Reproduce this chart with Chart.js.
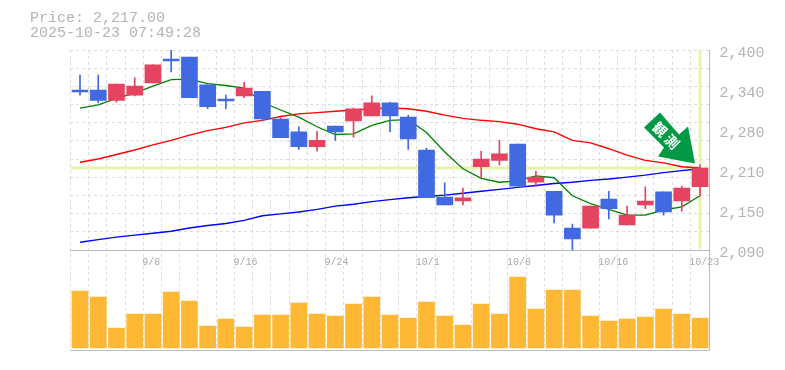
<!DOCTYPE html>
<html>
<head>
<meta charset="utf-8">
<style>
  body { margin: 0; background: #fff; }
  #wrap { position: relative; width: 785px; height: 370px; overflow: hidden; }
  #info { position: absolute; left: 30px; top: 11px; font: 15px/15px "Liberation Mono", monospace; color: #b4b4b4; white-space: pre; }
  canvas { position: absolute; left: 0; top: 0; }
</style>
<script src="https://cdn.jsdelivr.net/npm/chart.js@4/dist/chart.umd.js"></script>
</head>
<body>
<div id="wrap">
  <canvas id="c" width="785" height="370"></canvas>
  <div id="info">Price: 2,217.00
2025-10-23 07:49:28</div>
</div>
<script>
const lastPrice = 2217;

const opens  = [2338,2338,2322,2330,2349,2386,2389,2346,2324,2329,2336,2293,2273,2250,2282,2290,2298,2318,2296,2245,2172,2166,2219,2229,2254,2195,2181,2124,2124,2169,2129,2160,2180,2166,2188];
const closes = [2335,2322,2347,2344,2377,2383,2326,2312,2321,2341,2293,2264,2250,2260,2273,2309,2318,2298,2262,2171,2160,2171,2231,2239,2189,2203,2144,2107,2158,2154,2144,2166,2149,2186,2217];
const highs  = [2361,2361,2347,2357,2377,2400,2389,2346,2330,2350,2336,2295,2281,2274,2282,2310,2329,2319,2299,2248,2194,2186,2243,2260,2254,2212,2181,2130,2158,2181,2158,2188,2180,2189,2222];
const lows   = [2330,2318,2319,2329,2349,2366,2326,2309,2309,2326,2290,2264,2246,2243,2260,2265,2298,2273,2246,2171,2160,2160,2202,2222,2189,2188,2132,2090,2124,2138,2129,2154,2144,2150,2174];

const maShort = [2310,2315,2325,2333,2344,2354,2355,2348,2345,2341,2319,2307,2296,2281,2269,2270,2283,2291,2292,2272,2242,2216,2201,2195,2197,2205,2202,2174,2162,2153,2144,2144,2152,2157,2174];
const maMid   = [2226,2231,2238,2245,2253,2260,2268,2275,2280,2287,2291,2297,2301,2303,2305,2307,2309,2310,2309,2305,2299,2294,2291,2289,2285,2278,2273,2260,2256,2247,2237,2229,2225,2219,2217];
const maLong  = [2102,2106,2110,2113,2116,2119,2124,2128,2131,2136,2143,2146,2149,2153,2158,2161,2165,2168,2171,2173,2175,2178,2181,2184,2187,2190,2193,2195,2198,2200,2203,2206,2210,2213,2216];

const volumes = [57,51,20,34,34,56,47,22,29,21,33,33,45,34,32,44,51,33,30,46,32,23,44,34,71,39,58,58,32,27,29,31,39,34,30];

const dateIdx = [4,9,14,19,24,29,34];
const dateLabels = ['9/8','9/16','9/24','10/1','10/8','10/16','10/23'];
const priceTicks = [2400,2338,2276,2214,2152,2090];
const priceLabels = ['2,400','2,340','2,280','2,210','2,150','2,090'];

const UP = '#e54360', DOWN = '#4169e1', VOL = '#ffb833', GRID = '#ddd', AXIS = '#bbb', TEXT = '#aaa', MARK = '#e6f5a8';

const idx = opens.map((_, i) => i);
const candleColors = idx.map(i => closes[i] >= opens[i] ? UP : DOWN);
const xMin = -0.532, xMax = 34.52;
const gridLines = 11;

const line = (data, color, width) => ({
  type: 'line', data: data.map((y, i) => ({ x: i, y })), yAxisID: 'y',
  borderColor: color, borderWidth: width, pointRadius: 0, tension: 0, order: 5
});

// green arrow marker pointing at the last candle
const arrowPlugin = {
  id: 'arrow',
  afterDatasetsDraw(chart) {
    const tipX = chart.scales.x.getPixelForValue(34) - 5;
    const tipY = chart.scales.y.getPixelForValue(lastPrice) - 4.5;
    const ctx = chart.ctx;
    const shape = [[0,0],[-37,-7],[-31,-16],[-51,-36],[-35,-51],[-16,-29],[-7,-37]];
    ctx.save();
    ctx.translate(tipX, tipY);
    ctx.fillStyle = '#009944';
    ctx.beginPath();
    shape.forEach(p => ctx.lineTo(p[0], p[1]));
    ctx.closePath();
    ctx.fill();
    ctx.translate(-29, -28);
    ctx.rotate(Math.PI / 4);
    ctx.fillStyle = '#fff';
    ctx.font = 'bold 14px "Noto Sans CJK JP"';
    ctx.letterSpacing = '3px';
    ctx.textAlign = 'center';
    ctx.textBaseline = 'middle';
    ctx.fillText('観測', 1.5, 0);
    ctx.restore();
  }
};

new Chart(document.getElementById('c'), {
  data: {
    datasets: [
      { type: 'bar', data: idx.map(i => ({ x: i, y: [opens[i], closes[i]] })), yAxisID: 'y',
        backgroundColor: candleColors, barThickness: 16, grouped: false, order: 1 },
      { type: 'bar', data: idx.map(i => ({ x: i, y: [lows[i], highs[i]] })), yAxisID: 'y',
        backgroundColor: candleColors, barThickness: 1, grouped: false, order: 2 },
      { type: 'bar', data: idx.map(i => ({ x: i, y: volumes[i] })), yAxisID: 'yVol',
        backgroundColor: VOL, barThickness: 16, grouped: false, order: 3 },
      line(maShort, '#008000', 1.3),
      line(maMid, '#ff0000', 1.4),
      line(maLong, '#0000ff', 1.4),
      { type: 'line', data: [{ x: xMin, y: lastPrice }, { x: xMax, y: lastPrice }], yAxisID: 'y',
        borderColor: MARK, borderWidth: 3, pointRadius: 0, order: 9 },
      { type: 'line', data: [{ x: 34, y: 2400 }, { x: 34, y: 2092 }], yAxisID: 'y',
        borderColor: MARK, borderWidth: 3, pointRadius: 0, order: 9 }
    ]
  },
  plugins: [arrowPlugin],
  options: {
    responsive: false,
    animation: false,
    events: [],
    layout: { padding: { left: 70.3, right: 0, top: 50, bottom: 20 } },
    plugins: { legend: { display: false }, tooltip: { enabled: false } },
    scales: {
      x: {
        type: 'linear',
        offset: false,
        min: xMin,
        max: xMax,
        position: { y: 2090 },
        afterBuildTicks: s => { s.ticks = idx.map(i => ({ value: i + xMin })); },
        grid: { color: GRID, drawTicks: false, offset: false },
        border: { display: false, dash: [3, 3] },
        ticks: {
          color: TEXT,
          font: { family: '"Liberation Mono", monospace', size: 10 },
          align: 'start',
          padding: 6,
          labelOffset: -1,
          maxRotation: 0,
          autoSkip: false,
          callback: (v, i) => { const k = dateIdx.indexOf(i); return k < 0 ? '' : dateLabels[k]; }
        }
      },
      y: {
        position: 'right',
        min: 1935,
        max: 2400,
        afterFit: s => { s.width = 75.5; },
        afterBuildTicks: s => { s.ticks = priceTicks.map(value => ({ value })); },
        grid: { display: false, drawTicks: false },
        border: { display: true, color: AXIS, width: 1 },
        ticks: {
          color: '#b4b4b4',
          font: { family: '"Liberation Mono", monospace', size: 15 },
          padding: 10,
          labelOffset: 3.5,
          callback: (v, i) => priceLabels[i]
        }
      },
      // dotted price grid; index 11 and 12 are the solid panel edges
      yGrid: {
        position: 'left',
        reverse: true,
        min: 0,
        max: 16.5,
        afterFit: s => { s.width = 0; },
        afterBuildTicks: s => { s.ticks = [0,1,2,3,4,5,6,7,8,9,10,11,16.5].map(value => ({ value })); },
        grid: {
          drawTicks: false,
          color: c => c.index >= gridLines ? AXIS : GRID
        },
        border: {
          display: false,
          dash: c => c.index >= gridLines ? [] : [3, 3]
        },
        ticks: { display: false }
      },
      yVol: { display: false, min: -2, max: 298 }
    }
  }
});
</script>
</body>
</html>
